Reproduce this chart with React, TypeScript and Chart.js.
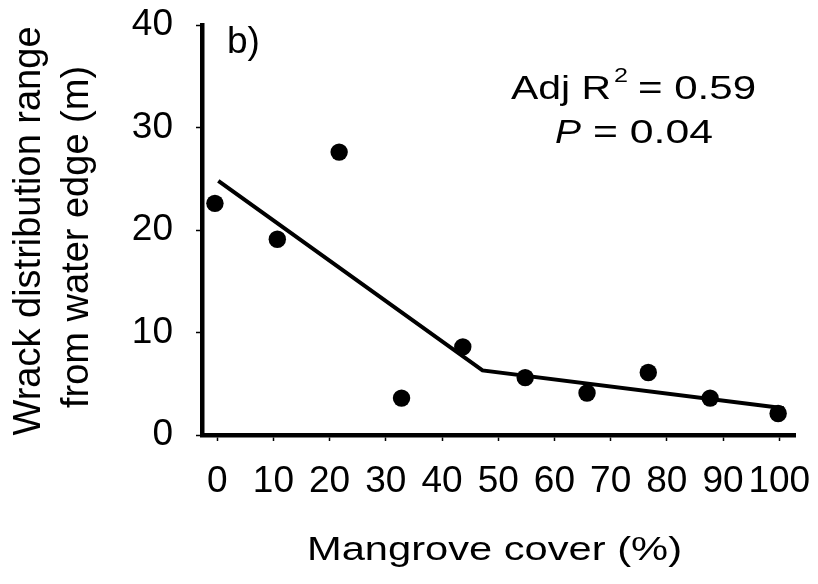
import React, { useEffect, useRef } from "react";
import { Chart, registerables } from "chart.js";

Chart.register(...registerables);

// Observed data (Mangrove cover %, wrack distribution range m)
const coverValues = [-0.4, 10.7, 21.7, 32.8, 43.7, 54.8, 65.8, 76.7, 87.7, 99.8];
const wrackValues = [22.6, 19.1, 27.6, 3.6, 8.6, 5.6, 4.1, 6.1, 3.6, 2.1];
// Piecewise fitted line
const fitCover = [0.2, 47.2, 100.8];
const fitWrack = [24.8, 6.3, 2.6];
// Tick labels
const xTickValues = [0, 10, 20, 30, 40, 50, 60, 70, 80, 90, 100];
const yTickValues = [0, 10, 20, 30, 40];

const FONT = '"Liberation Sans", Arial, Helvetica, sans-serif';

function drawFit(
  ctx: CanvasRenderingContext2D,
  text: string,
  left: number,
  baseline: number,
  font: string,
  width?: number
) {
  ctx.save();
  ctx.font = font;
  ctx.textAlign = "left";
  ctx.textBaseline = "alphabetic";
  const w = ctx.measureText(text).width;
  const sx = width ? width / w : 1;
  ctx.translate(left, baseline);
  ctx.scale(sx, 1);
  ctx.fillStyle = "#000";
  ctx.fillText(text, 0, 0);
  ctx.restore();
}

const textPlugin = {
  id: "textPlugin",
  afterDraw(chart: any) {
    const ctx: CanvasRenderingContext2D = chart.ctx;
    // panel label
    drawFit(ctx, "b)", 227, 53, `37px ${FONT}`);
    // annotation
    drawFit(ctx, "Adj R", 511, 99, `34px ${FONT}`, 100);
    drawFit(ctx, "2", 614, 82, `21px ${FONT}`, 14);
    drawFit(ctx, "= 0.59", 638, 99, `34px ${FONT}`, 118);
    drawFit(ctx, "P", 555, 143, `italic 34px ${FONT}`, 26);
    drawFit(ctx, "= 0.04", 593, 143, `34px ${FONT}`, 120);
    // x title
    drawFit(ctx, "Mangrove cover (%)", 307, 560, `33px ${FONT}`, 375);
    // y title (two lines, rotated)
    ctx.save();
    ctx.fillStyle = "#000";
    ctx.font = `38px ${FONT}`;
    ctx.textAlign = "center";
    ctx.textBaseline = "alphabetic";
    ctx.translate(40, 231);
    ctx.rotate(-Math.PI / 2);
    ctx.fillText("Wrack distribution range", 0, 0);
    ctx.restore();
    ctx.save();
    ctx.fillStyle = "#000";
    ctx.font = `38px ${FONT}`;
    ctx.textAlign = "center";
    ctx.textBaseline = "alphabetic";
    ctx.translate(88, 237);
    ctx.rotate(-Math.PI / 2);
    ctx.fillText("from water edge (m)", 0, 0);
    ctx.restore();
  },
};

function zeroPad(scale: any) {
  scale.paddingTop = 0;
  scale.paddingBottom = 0;
  scale.paddingLeft = 0;
  scale.paddingRight = 0;
}

export default function App() {
  const canvasRef = useRef<HTMLCanvasElement | null>(null);

  useEffect(() => {
    if (!canvasRef.current) return;
    const points = coverValues.map((x, i) => ({ x, y: wrackValues[i] }));
    const fit = fitCover.map((x, i) => ({ x, y: fitWrack[i] }));
    const chart = new Chart(canvasRef.current, {
      type: "scatter",
      data: {
        datasets: [
          {
            label: "fit",
            data: fit,
            showLine: true,
            borderColor: "#000",
            borderWidth: 4,
            pointRadius: 0,
            pointHoverRadius: 0,
            fill: false,
            clip: false as any,
          },
          {
            label: "obs",
            data: points,
            pointRadius: 8.7,
            pointHoverRadius: 8.7,
            backgroundColor: "#000",
            borderColor: "#000",
            borderWidth: 0,
            clip: false as any,
          },
        ],
      },
      options: {
        animation: false,
        responsive: true,
        maintainAspectRatio: false,
        events: [],
        layout: { padding: { left: 0, top: 25, right: 23, bottom: 0 } },
        plugins: {
          legend: { display: false },
          tooltip: { enabled: false },
          title: { display: false },
        },
        scales: {
          x: {
            type: "linear",
            min: -2.7,
            max: 102.8,
            afterBuildTicks: (scale: any) => {
              scale.ticks = xTickValues.map((v) => ({ value: v }));
            },
            afterFit: (scale: any) => {
              scale.height = 149;
              zeroPad(scale);
            },
            grid: {
              drawOnChartArea: false,
              drawTicks: true,
              tickLength: 6,
              tickWidth: 1.5,
              tickColor: "#000",
            },
            border: { display: true, color: "#000", width: 4.5 },
            ticks: {
              color: "#000",
              font: { family: FONT, size: 37 },
              padding: 19,
              maxRotation: 0,
              minRotation: 0,
              autoSkip: false,
              callback: (v: any) => String(v),
            },
          },
          y: {
            type: "linear",
            min: 0,
            max: 40,
            afterBuildTicks: (scale: any) => {
              scale.ticks = yTickValues.map((v) => ({ value: v }));
            },
            afterFit: (scale: any) => {
              scale.width = 202;
              zeroPad(scale);
            },
            grid: {
              drawOnChartArea: false,
              drawTicks: true,
              tickLength: 6,
              tickWidth: 1.5,
              tickColor: "#000",
            },
            border: { display: true, color: "#000", width: 4.5 },
            ticks: {
              color: "#000",
              font: { family: FONT, size: 37 },
              padding: 23,
              autoSkip: false,
              callback: (v: any) => String(v),
            },
          },
        },
      },
      plugins: [textPlugin],
    });
    return () => chart.destroy();
  }, []);

  return (
    <div
      style={{
        position: "fixed",
        left: 0,
        top: 0,
        width: 818,
        height: 584,
        background: "#fff",
      }}
    >
      <canvas ref={canvasRef} />
    </div>
  );
}
